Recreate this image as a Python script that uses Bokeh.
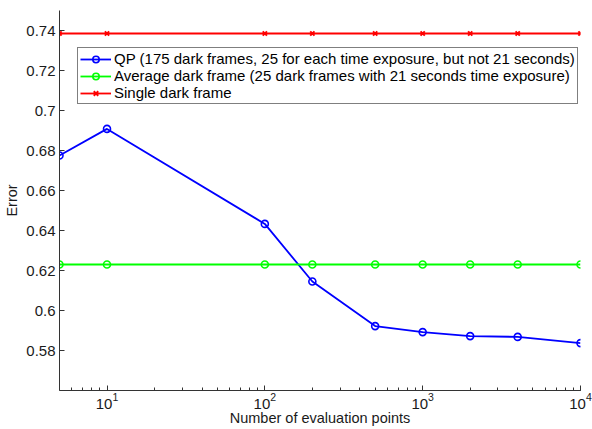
from bokeh.plotting import figure
from bokeh.models import Range1d, LogTicker, FixedTicker, CustomJSTickFormatter, Legend
from bokeh.embed import file_html
from bokeh.resources import INLINE

x_points = [5, 10, 100, 200, 500, 1000, 2000, 4000, 10000]
qp_error = [0.6775, 0.6908, 0.6433, 0.6145, 0.5922, 0.5892, 0.5872, 0.5868, 0.5837]
avg_error = [0.623] * len(x_points)
single_error = [0.7385] * len(x_points)
y_ticks = [0.58, 0.60, 0.62, 0.64, 0.66, 0.68, 0.70, 0.72, 0.74]

labels = [
    "QP (175 dark frames, 25 for each time exposure, but not 21 seconds)",
    "Average dark frame (25 dark frames with 21 seconds time exposure)",
    "Single dark frame",
]

FONT = "Liberation Sans"
TXT = "#1a1a1a"

p = figure(width=592, height=429, x_axis_type="log", output_backend="svg",
           toolbar_location=None, x_range=Range1d(5, 10000), y_range=Range1d(0.56, 0.75),
           min_border_left=59, min_border_right=12, min_border_top=10, min_border_bottom=39)
p.outline_line_color = None
p.grid.visible = False
p.background_fill_color = "white"

r1l = p.line(x_points, qp_error, line_color="#0000ff", line_width=1.8)
r1m = p.scatter(x_points, qp_error, marker="circle", size=7, line_color="#0000ff",
                fill_color=None, line_width=1.6)
r2l = p.line(x_points, avg_error, line_color="#00ff00", line_width=1.8)
r2m = p.scatter(x_points, avg_error, marker="circle", size=7, line_color="#00ff00",
                fill_color=None, line_width=1.6)
r3l = p.line(x_points, single_error, line_color="#ff0000", line_width=1.8)
r3m = p.scatter(x_points, single_error, marker="x", size=6, line_color="#ff0000",
                line_width=2)

legend = Legend(items=[(labels[0], [r1l, r1m]), (labels[1], [r2l, r2m]), (labels[2], [r3l, r3m])],
                location=(18, 286))
legend.label_text_font = FONT
legend.label_text_font_size = "15px"
legend.label_text_color = "black"
legend.glyph_width = 31
legend.glyph_height = 16
legend.label_height = 16
legend.label_standoff = 3
legend.spacing = 0
legend.padding = 2
legend.margin = 0
legend.border_line_color = "black"
legend.border_line_width = 1
legend.background_fill_color = "white"
legend.background_fill_alpha = 1
p.add_layout(legend, "center")

p.yaxis.ticker = FixedTicker(ticks=y_ticks)
p.yaxis.formatter = CustomJSTickFormatter(code="var s = tick.toFixed(2); if (s.endsWith('0')) s = s.slice(0, -1); return s;")
p.xaxis.ticker = LogTicker(num_minor_ticks=10)

for ax in (p.xaxis[0], p.yaxis[0]):
    ax.axis_line_color = "#333333"
    ax.axis_line_width = 1
    ax.major_tick_line_color = "#333333"
    ax.minor_tick_line_color = "#333333"
    ax.major_tick_in = 5
    ax.major_tick_out = 0
    ax.minor_tick_in = 3
    ax.minor_tick_out = 0
    ax.major_label_text_font = FONT
    ax.major_label_text_font_size = "15px"
    ax.major_label_text_color = TXT
    ax.axis_label_text_font = FONT
    ax.axis_label_text_font_size = "14.5px"
    ax.axis_label_text_font_style = "normal"
    ax.axis_label_text_color = TXT

p.yaxis.minor_tick_line_color = None
p.yaxis.major_label_standoff = 4
p.xaxis.major_label_standoff = 2
p.xaxis.axis_label = "Number of evaluation points"
p.yaxis.axis_label = "Error"
p.xaxis.axis_label_standoff = -2
p.yaxis.axis_label_standoff = 3

open("out.html", "w").write(file_html(p, INLINE))
